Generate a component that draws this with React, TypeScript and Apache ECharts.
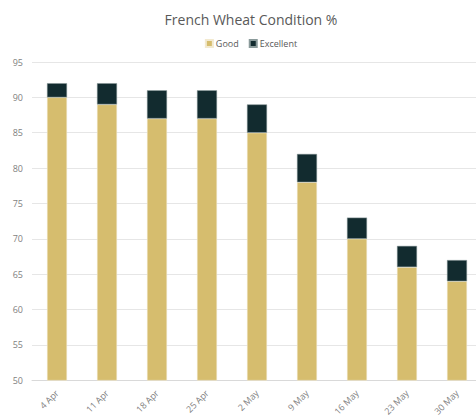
import React, { useEffect, useRef } from "react";
import * as echarts from "echarts";

const categories = ["4 Apr", "11 Apr", "18 Apr", "25 Apr", "2 May", "9 May", "16 May", "23 May", "30 May"];
const good = [90, 89, 87, 87, 85, 78, 70, 66, 64];
const excellent = [2, 3, 4, 4, 4, 4, 3, 3, 3];

export default function App() {
  const ref = useRef<HTMLDivElement>(null);
  useEffect(() => {
    const chart = echarts.init(ref.current!, null, { renderer: "svg" });
    const font = "'Open Sans', 'Noto Sans', sans-serif";
    chart.setOption({
      animation: false,
      textStyle: { fontFamily: font },
      title: {
        text: "French Wheat Condition %",
        left: "center",
        top: 7,
        textStyle: { fontSize: 14, fontWeight: "normal", color: "#595959", fontFamily: font },
      },
      legend: {
        top: 34,
        left: "center",
        itemWidth: 7,
        itemHeight: 7,
        itemGap: 10,
        icon: "rect",
        textStyle: { fontSize: 9, color: "#595959", fontFamily: font, padding: [0, 0, 0, -2] },
        data: ["Good", "Excellent"],
      },
      grid: { left: 32, right: 20, top: 62, bottom: 31, containLabel: false },
      xAxis: {
        type: "category",
        data: categories,
        axisLine: { lineStyle: { color: "#d9d9d9" } },
        axisTick: { show: false },
        axisLabel: { rotate: 45, fontSize: 9, color: "#7f7f7f", margin: 11, fontFamily: font },
      },
      yAxis: {
        type: "value",
        min: 50,
        max: 95,
        interval: 5,
        axisLine: { show: false },
        axisTick: { show: false },
        splitLine: { lineStyle: { color: "#e6e6e6" } },
        axisLabel: { fontSize: 9, color: "#7f7f7f", margin: 9, fontFamily: font },
      },
      series: [
        {
          name: "Good",
          type: "bar",
          stack: "total",
          data: good,
          barWidth: 20,
          itemStyle: { color: "#D6BD6E", borderColor: "#f3ead0", borderWidth: 0.5 },
        },
        {
          name: "Excellent",
          type: "bar",
          stack: "total",
          data: excellent,
          barWidth: 20,
          itemStyle: { color: "#122B2F", borderColor: "#8a9a9a", borderWidth: 0.5 },
        },
      ],
    });
    return () => chart.dispose();
  }, []);
  return (
    <div style={{ position: "fixed", left: 0, top: 0, width: 476, height: 418, overflow: "hidden", background: "#fff" }}>
      <div ref={ref} style={{ width: 502, height: 418 }} />
    </div>
  );
}
